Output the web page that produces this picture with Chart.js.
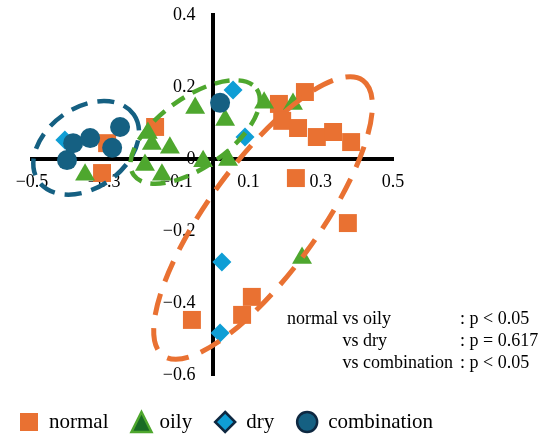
<!DOCTYPE html>
<html>
<head>
<meta charset="utf-8">
<script src="https://cdn.jsdelivr.net/npm/chart.js@4.4.1/dist/chart.umd.min.js"></script>
<style>
  html, body { margin: 0; padding: 0; background: #fff; }
</style>
</head>
<body>
<canvas id="pca" width="550" height="446"></canvas>
<script>
'use strict';

// axis tick labels
const xTickLabels = ['−0.5', '−0.3', '−0.1', '0.1', '0.3', '0.5'];
const yTickLabels = ['−0.6', '−0.4', '−0.2', '0', '0.2', '0.4'];

// skin types
const groups = ['normal', 'oily', 'dry', 'combination'];

// scores (PC1, PC2)
const normalX = [-0.159, -0.292, -0.306, 0.256, 0.184, 0.193, 0.237, 0.289, 0.334, 0.384, 0.231, 0.375, 0.109, 0.082, -0.057];
const normalY = [0.089, 0.044, -0.039, 0.186, 0.153, 0.106, 0.086, 0.061, 0.075, 0.047, -0.053, -0.178, -0.383, -0.433, -0.447];

const oilyX = [-0.048, 0.035, -0.179, -0.168, -0.118, -0.187, -0.140, -0.026, 0.043, -0.353, 0.143, 0.223, 0.248];
const oilyY = [0.142, 0.108, 0.072, 0.042, 0.031, -0.017, -0.044, -0.006, -0.003, -0.044, 0.156, 0.153, -0.275];

const dryX = [-0.409, 0.057, 0.090, 0.026, 0.021];
const dryY = [0.053, 0.192, 0.061, -0.286, -0.483];

const combX = [-0.403, -0.386, -0.339, -0.256, -0.278, 0.021];
const combY = [-0.003, 0.044, 0.058, 0.089, 0.031, 0.156];

// dashed group ellipses: centre, semi axes (PC1 units), tilt in degrees
const ellipseGroup = ['combination', 'oily', 'normal'];
const ellipseCx = [-0.350, -0.048, 0.140];
const ellipseCy = [0.031, 0.075, -0.164];
const ellipseA = [0.161, 0.208, 0.471];
const ellipseB = [0.111, 0.097, 0.152];
const ellipseTilt = [35, 35, 54];

// statistics note
const statsLeft = ['normal vs oily', 'vs dry', 'vs combination'];
const statsRight = [': p < 0.05', ': p = 0.617', ': p < 0.05'];

// styles
const SERIF = "'Liberation Serif', 'Times New Roman', serif";
const colors = { normal: '#E97132', oily: '#4EA72E', dry: '#0F9ED5', combination: '#156082' };
const shapes = { normal: 'rect', oily: 'triangle', dry: 'rectRot', combination: 'circle' };
const radii = { normal: 12.7, oily: 11.5, dry: 9.5, combination: 10 };
const dashes = { normal: [22, 13], oily: [15, 9], combination: [17, 10] };
const legendFill = { normal: '#E97132', oily: '#196B24', dry: '#0F9ED5', combination: '#156082' };
const legendStroke = { normal: null, oily: '#4EA72E', dry: '#0E2841', combination: '#0E2841' };

const pts = (xs, ys) => xs.map((x, i) => ({ x, y: ys[i] }));
const series = { normal: [normalX, normalY], oily: [oilyX, oilyY], dry: [dryX, dryY], combination: [combX, combY] };

const datasets = groups.map((g, i) => ({
  label: g,
  data: pts(series[g][0], series[g][1]),
  pointStyle: shapes[g],
  pointRadius: radii[g],
  pointHoverRadius: radii[g],
  pointBackgroundColor: colors[g],
  pointBorderWidth: 0,
  order: groups.length - i
}));

// ellipses go on top of the points, like in the figure
const ellipsePlugin = {
  id: 'ellipses',
  afterDatasetsDraw(chart) {
    const { ctx, scales: { x, y } } = chart;
    ellipseCx.forEach((cx, i) => {
      const g = ellipseGroup[i];
      const px = x.getPixelForValue(cx);
      const py = y.getPixelForValue(ellipseCy[i]);
      const rx = x.getPixelForValue(cx + ellipseA[i]) - px;
      const ry = x.getPixelForValue(cx + ellipseB[i]) - px;
      ctx.save();
      ctx.beginPath();
      ctx.ellipse(px, py, rx, ry, -ellipseTilt[i] * Math.PI / 180, 0, Math.PI * 2);
      ctx.setLineDash(dashes[g]);
      ctx.lineWidth = g === 'normal' ? 5 : 4.5;
      ctx.strokeStyle = colors[g];
      ctx.stroke();
      ctx.restore();
    });
  }
};

function drawMarker(ctx, shape, cx, cy, s, fill, stroke) {
  const h = s / 2;
  ctx.beginPath();
  if (shape === 'rect') ctx.rect(cx - h, cy - h, s, s);
  else if (shape === 'triangle') { ctx.moveTo(cx, cy - h); ctx.lineTo(cx + h, cy + h); ctx.lineTo(cx - h, cy + h); ctx.closePath(); }
  else if (shape === 'rectRot') { ctx.moveTo(cx, cy - h); ctx.lineTo(cx + h, cy); ctx.lineTo(cx, cy + h); ctx.lineTo(cx - h, cy); ctx.closePath(); }
  else ctx.arc(cx, cy, h, 0, Math.PI * 2);
  ctx.fillStyle = fill;
  ctx.fill();
  if (stroke) { ctx.lineWidth = 2.5; ctx.strokeStyle = stroke; ctx.stroke(); }
}

const legendPlugin = {
  id: 'bottomLegend',
  afterDraw(chart) {
    const ctx = chart.ctx;
    ctx.save();
    ctx.font = '21px ' + SERIF;
    ctx.textBaseline = 'middle';
    ctx.textAlign = 'left';
    let cx = 20;
    const cy = 422;
    groups.forEach((g) => {
      const s = g === 'normal' ? 18 : 20;
      drawMarker(ctx, shapes[g], cx + s / 2, cy, s, legendFill[g], legendStroke[g]);
      cx += s + (g === 'oily' ? 8 : 11);
      ctx.fillStyle = '#000';
      ctx.fillText(g, cx, cy);
      cx += ctx.measureText(g).width + 23;
    });
    ctx.restore();
  }
};

const statsPlugin = {
  id: 'stats',
  afterDraw(chart) {
    const ctx = chart.ctx;
    ctx.save();
    ctx.font = '18px ' + SERIF;
    ctx.fillStyle = '#000';
    ctx.textBaseline = 'alphabetic';
    const left = 287;
    const indent = left + ctx.measureText('normal ').width;
    statsLeft.forEach((t, i) => {
      const yy = 324 + i * 22;
      ctx.fillText(t, i === 0 ? left : indent, yy);
      ctx.fillText(statsRight[i], 460, yy);
    });
    ctx.restore();
  }
};

const tickFont = { family: SERIF, size: 18 };

new Chart(document.getElementById('pca'), {
  type: 'scatter',
  data: { datasets },
  options: {
    responsive: false,
    animation: false,
    layout: { padding: { left: 32, right: 157, top: 15, bottom: 71 } },
    plugins: { legend: { display: false }, tooltip: { enabled: false } },
    scales: {
      x: {
        type: 'linear', axis: 'x', min: -0.5, max: 0.5, position: { y: 0 },
        grid: { display: false, drawTicks: false },
        border: { display: true, color: '#000', width: 4 },
        ticks: {
          stepSize: 0.2, padding: 12, autoSkip: false, maxRotation: 0, color: '#000', font: tickFont,
          callback: (v, i) => xTickLabels[i]
        }
      },
      y: {
        type: 'linear', axis: 'y', min: -0.6, max: 0.4, position: { x: 0 },
        grid: { display: false, drawTicks: false },
        border: { display: true, color: '#000', width: 4 },
        ticks: {
          stepSize: 0.2, padding: 0, autoSkip: false, color: '#000', font: tickFont,
          // centred axis: labels are right-aligned on the axis line, so pad them with spaces
          callback: (v, i) => yTickLabels[i] + '   \u2009'
        }
      }
    }
  },
  plugins: [ellipsePlugin, legendPlugin, statsPlugin]
});
</script>
</body>
</html>
